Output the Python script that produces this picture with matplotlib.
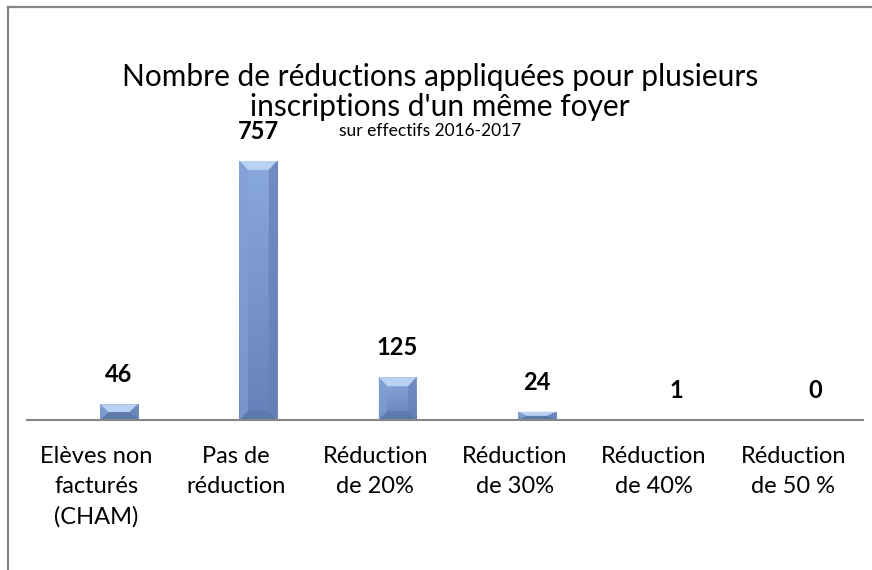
import matplotlib
matplotlib.use("Agg")
import matplotlib.pyplot as plt
import numpy as np
from matplotlib.lines import Line2D
from matplotlib.patches import Polygon

plt.rcParams['font.family'] = ['Lato', 'DejaVu Sans']

categories = ["Elèves non\nfacturés\n(CHAM)", "Pas de\nréduction", "Réduction\nde 20%",
              "Réduction\nde 30%", "Réduction\nde 40%", "Réduction\nde 50 %"]
values = [46, 757, 125, 24, 1, 0]

title_lines = ["Nombre de réductions appliquées pour plusieurs",
               "inscriptions d'un même foyer"]
subtitle = "sur effectifs 2016-2017"

fig = plt.figure(figsize=(8.72, 5.70), dpi=100)
ax = fig.add_axes([27 / 872, 150 / 570, 836 / 872, 308 / 570])

x = np.arange(len(categories))
offset = 0.16   # bars sit a little right of the category centre
width = 0.27
bars = ax.bar(x + offset, values, width=width, color="#7b98cc",
              edgecolor="#5f7bb0", linewidth=0.6, zorder=2)

# vertical gradient + bevel look, like the Excel bars
grad = np.linspace(0, 1, 100).reshape(-1, 1)
cmap = matplotlib.colors.LinearSegmentedColormap.from_list(
    "bar", ["#6681b9", "#8aa9de"])
px_per_unit = 308 / 900
for b in bars:
    x0, w, h = b.get_x(), b.get_width(), b.get_height()
    if h <= 0:
        continue
    im = ax.imshow(grad, cmap=cmap, origin="lower", aspect="auto",
                   extent=[x0, x0 + w, 0, h], zorder=2.1)
    im.set_clip_path(b)
    bev_y = min(9 / px_per_unit, h / 2)
    bev_x = min(0.06, w / 2)
    top = Polygon([(x0, h), (x0 + w, h), (x0 + w - bev_x, h - bev_y), (x0 + bev_x, h - bev_y)],
                  closed=True, facecolor="#b9d2f4", edgecolor="none", zorder=2.2)
    bot = Polygon([(x0, 0), (x0 + w, 0), (x0 + w - bev_x, bev_y), (x0 + bev_x, bev_y)],
                  closed=True, facecolor="#5d78ab", edgecolor="none", zorder=2.2)
    left = Polygon([(x0, 0), (x0, h), (x0 + bev_x, h - bev_y), (x0 + bev_x, bev_y)],
                   closed=True, facecolor="#819fd2", edgecolor="none", alpha=0.7, zorder=2.2)
    right = Polygon([(x0 + w, 0), (x0 + w, h), (x0 + w - bev_x, h - bev_y), (x0 + w - bev_x, bev_y)],
                    closed=True, facecolor="#6580b5", edgecolor="none", alpha=0.7, zorder=2.2)
    for p in (top, bot, left, right):
        ax.add_patch(p)

for xi, v in zip(x + offset, values):
    ax.annotate(str(v), (xi, v), textcoords="offset points", xytext=(0, 13),
                ha="center", va="bottom", fontsize=17, fontweight="bold", color="black")

ax.set_xlim(-0.5, 5.5)
ax.set_ylim(0, 900)
ax.set_xticks(x)
ax.set_xticklabels(categories, fontsize=17, linespacing=1.5)
ax.tick_params(axis="x", length=0, pad=19)
ax.set_yticks([])
for s in ("top", "left", "right"):
    ax.spines[s].set_visible(False)
ax.spines["bottom"].set_color("#868686")
ax.spines["bottom"].set_linewidth(1.5)
ax.spines["bottom"].set_zorder(3)
ax.patch.set_visible(False)

fig.text(440 / 872, 1 - 77 / 570, title_lines[0], ha="center", va="center", fontsize=21.5)
fig.text(440 / 872, 1 - 107 / 570, title_lines[1], ha="center", va="center", fontsize=21.5)
fig.text(430 / 872, 1 - 131 / 570, subtitle, ha="center", va="center", fontsize=12.5)

# chart frame (only top and left edges visible in the crop)
fig.add_artist(Line2D([7.5 / 872, 1], [1 - 6.5 / 570, 1 - 6.5 / 570],
                      transform=fig.transFigure, color="#868686", lw=1.6))
fig.add_artist(Line2D([7.5 / 872, 7.5 / 872], [0, 1 - 6.5 / 570],
                      transform=fig.transFigure, color="#868686", lw=1.6))

fig.savefig("out.png", dpi=100)
